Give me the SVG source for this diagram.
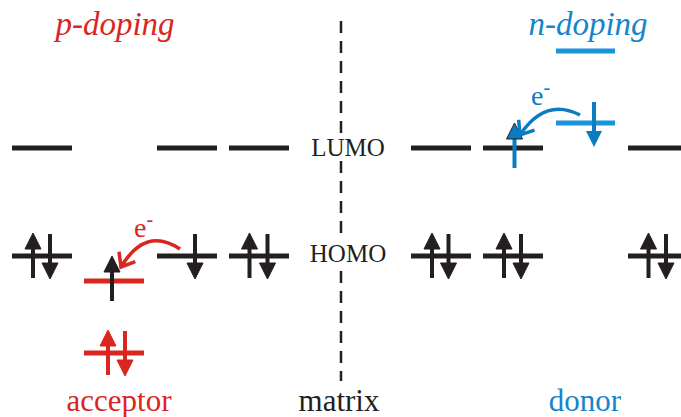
<svg xmlns="http://www.w3.org/2000/svg" width="681" height="417" viewBox="0 0 681 417">
  <style>
    .lvl { stroke-width: 5; fill: none; }
    .k { stroke: #231f20; color: #231f20; }
    .r { stroke: #d9261e; color: #d9261e; }
    .b { stroke: #1a94da; }
    .bc { color: #0b7cc2; }
    .xfer { fill: none; stroke-width: 3.5; }
    text { font-family: "Liberation Serif", "Times New Roman", serif; }
    .lbl { font-size: 25px; fill: #231f20; text-anchor: middle; }
    .cap { font-size: 31px; text-anchor: middle; }
    .ttl { font-size: 33px; font-style: italic; text-anchor: middle; }
    .el { font-size: 28px; }
    .div { stroke: #231f20; stroke-width: 2.5; stroke-dasharray: 12 8; }
  </style>
  <defs>
    <!-- spin arrows: origin at the tip / top end -->
    <g id="up">
      <line x1="0" y1="14" x2="0" y2="45" stroke="currentColor" stroke-width="4"/>
      <polygon points="0,0 8,16 -8,16" fill="currentColor"/>
    </g>
    <g id="dn">
      <line x1="0" y1="0" x2="0" y2="31" stroke="currentColor" stroke-width="4"/>
      <polygon points="0,45 8,29 -8,29" fill="currentColor"/>
    </g>
    <marker id="vRed" markerUnits="userSpaceOnUse" orient="auto" overflow="visible" refX="0" refY="0" markerWidth="20" markerHeight="20">
      <path d="M-12,-9.5 L0,0 L-12,9.5" fill="none" stroke="#d9261e" stroke-width="3.5"/>
    </marker>
    <marker id="vBlue" markerUnits="userSpaceOnUse" orient="auto" overflow="visible" refX="0" refY="0" markerWidth="20" markerHeight="20">
      <path d="M-12,-9.5 L0,0 L-12,9.5" fill="none" stroke="#0b7cc2" stroke-width="3.5"/>
    </marker>
  </defs>

  <rect width="681" height="417" fill="#ffffff"/>

  <!-- titles -->
  <text class="ttl" x="115" y="35" fill="#d9261e">p-doping</text>
  <text class="ttl" x="588" y="35" fill="#1585cb">n-doping</text>

  <!-- matrix divider -->
  <g id="divider">
    <line class="div" x1="341" y1="21" x2="341" y2="135"/>
    <line class="div" x1="341" y1="161" x2="341" y2="235"/>
    <line class="div" x1="341" y1="271" x2="341" y2="381"/>
  </g>

  <!-- matrix LUMO levels -->
  <g id="lumo-1" class="k"><line class="lvl" x1="12" y1="148" x2="72" y2="148"/></g>
  <g id="lumo-2" class="k"><line class="lvl" x1="157" y1="148" x2="217" y2="148"/></g>
  <g id="lumo-3" class="k"><line class="lvl" x1="229" y1="148" x2="289" y2="148"/></g>
  <g id="lumo-4" class="k"><line class="lvl" x1="411" y1="148" x2="471" y2="148"/></g>
  <g id="lumo-5" class="k">
    <line class="lvl" x1="483" y1="148" x2="543" y2="148"/>
    <use href="#up" x="514.5" y="123" class="bc"/>
  </g>
  <g id="lumo-6" class="k"><line class="lvl" x1="628" y1="148" x2="688" y2="148"/></g>

  <!-- matrix HOMO levels -->
  <g id="homo-1" class="k">
    <line class="lvl" x1="12" y1="256" x2="72" y2="256"/>
    <use href="#up" x="33" y="233"/>
    <use href="#dn" x="50" y="234"/>
  </g>
  <g id="homo-2" class="k">
    <line class="lvl" x1="157" y1="256" x2="217" y2="256"/>
    <use href="#dn" x="195" y="234"/>
  </g>
  <g id="homo-3" class="k">
    <line class="lvl" x1="229" y1="256" x2="289" y2="256"/>
    <use href="#up" x="249.5" y="233"/>
    <use href="#dn" x="267.5" y="234"/>
  </g>
  <g id="homo-4" class="k">
    <line class="lvl" x1="411" y1="256" x2="471" y2="256"/>
    <use href="#up" x="432" y="233"/>
    <use href="#dn" x="448.5" y="234"/>
  </g>
  <g id="homo-5" class="k">
    <line class="lvl" x1="483" y1="256" x2="543" y2="256"/>
    <use href="#up" x="504" y="233"/>
    <use href="#dn" x="521" y="234"/>
  </g>
  <g id="homo-6" class="k">
    <line class="lvl" x1="628" y1="256" x2="688" y2="256"/>
    <use href="#up" x="648.5" y="233"/>
    <use href="#dn" x="666" y="234"/>
  </g>

  <!-- acceptor levels -->
  <g id="acceptor-lumo">
    <line class="lvl r" x1="84" y1="281" x2="144" y2="281"/>
    <use href="#up" x="112" y="256" class="k"/>
  </g>
  <g id="acceptor-homo" class="r">
    <line class="lvl" x1="84" y1="353" x2="144" y2="353"/>
    <use href="#up" x="108" y="330"/>
    <use href="#dn" x="125" y="331"/>
  </g>

  <!-- donor levels -->
  <g id="donor-lumo"><line class="lvl b" x1="556" y1="51" x2="615" y2="51"/></g>
  <g id="donor-homo">
    <line class="lvl b" x1="556" y1="123" x2="615" y2="123"/>
    <use href="#dn" x="594" y="102" class="bc"/>
  </g>

  <!-- level labels -->
  <text class="lbl" x="348" y="156">LUMO</text>
  <text class="lbl" x="348" y="262">HOMO</text>

  <!-- electron transfer -->
  <g id="connectors">
    <path class="xfer" d="M180,249 Q145.5,226 121,267" stroke="#d9261e" marker-end="url(#vRed)"/>
    <path class="xfer" d="M580,115 Q545,97 520,135" stroke="#0b7cc2" marker-end="url(#vBlue)"/>
  </g>
  <text class="el" x="134" y="237" fill="#d9261e">e<tspan dy="-11" font-size="20">-</tspan></text>
  <text class="el" x="531" y="105" fill="#0b7cc2">e<tspan dy="-11" font-size="20">-</tspan></text>

  <!-- captions -->
  <text class="cap" x="119" y="411" fill="#d9261e">acceptor</text>
  <text class="cap" x="339" y="411" fill="#231f20">matrix</text>
  <text class="cap" x="585" y="411" fill="#1585cb">donor</text>
</svg>
